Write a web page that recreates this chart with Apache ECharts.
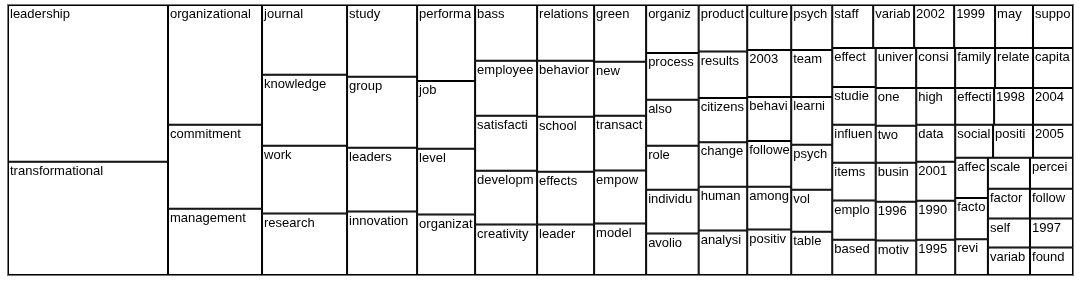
<!DOCTYPE html>
<html><head><meta charset="utf-8">
<script src="https://cdn.jsdelivr.net/npm/echarts@6/dist/echarts.min.js"></script>
<style>html,body{margin:0;padding:0;background:#fff}#c{width:1084px;height:286px}</style>
</head><body><div id="c"></div>
<script>
const words = [
  "leadership","transformational",
  "organizational","commitment","management",
  "journal","knowledge","work","research",
  "study","group","leaders","innovation",
  "performance","job","level","organization",
  "bass","employees","satisfaction","development","creativity",
  "relationship","behavior","school","effects","leader",
  "green","new","transactional","empowerment","model",
  "organizations","process","also","role","individual","avolio",
  "product","results","citizenship","change","human","analysis",
  "culture","2003","behavioral","followers","among","positive",
  "psychological","team","learning","psychology","vol","table",
  "staff","variables","2002","1999","may","support",
  "effect","studies","influence","items","employee","based",
  "university","consideration","family","related","capital",
  "one","two","business","1996","motivation",
  "high","effective","1998","2004",
  "data","2001","1990","1995",
  "social","positively","2005",
  "affect","factors","review",
  "scale","perceived",
  "factor","follower",
  "self","variable","1997","found"
];
const counts = [
  2512,1816,
  1128,790,625,
  595,604,578,523,
  504,497,448,445,
  441,394,383,351,
  347,341,341,335,313,
  319,319,314,302,288,
  296,281,286,276,268,
  252,247,242,231,231,218,
  226,226,216,216,213,216,
  198,207,194,202,189,200,
  185,193,197,185,172,178,
  176,176,172,176,163,172,
  170,165,165,165,170,154,
  162,156,160,152,160,
  154,150,158,158,140,
  144,144,144,148,
  144,152,152,138,
  125,132,132,
  132,135,117,
  130,133,
  126,129,
  122,116,125,118
];

const data = words.map((w, i) => ({ name: w, value: counts[i], itemStyle: { color: '#fff' } }));

const chart = echarts.init(document.getElementById('c'), null, { renderer: 'canvas' });
chart.setOption({
  animation: false,
  backgroundColor: '#fff',
  series: [{
    type: 'treemap',
    left: 7, top: 4, width: 1067, height: 272,
    roam: false,
    nodeClick: false,
    sort: false,
    squareRatio: 1,
    breadcrumb: { show: false },
    visibleMin: 0,
    label: {
      show: true,
      position: [1, 2],
      color: '#000',
      fontSize: 13,
      fontFamily: 'Liberation Sans, Arial, sans-serif',
      padding: 0,
      distance: 0,
      overflow: 'truncate',
      ellipsis: ''
    },
    emphasis: { disabled: true },
    levels: [
      { itemStyle: { borderColor: '#777', borderWidth: 1, gapWidth: 0 } },
      { itemStyle: { borderColor: '#000', borderWidth: 1, gapWidth: 0 } }
    ],
    data: data
  }]
});
</script>
</body></html>
